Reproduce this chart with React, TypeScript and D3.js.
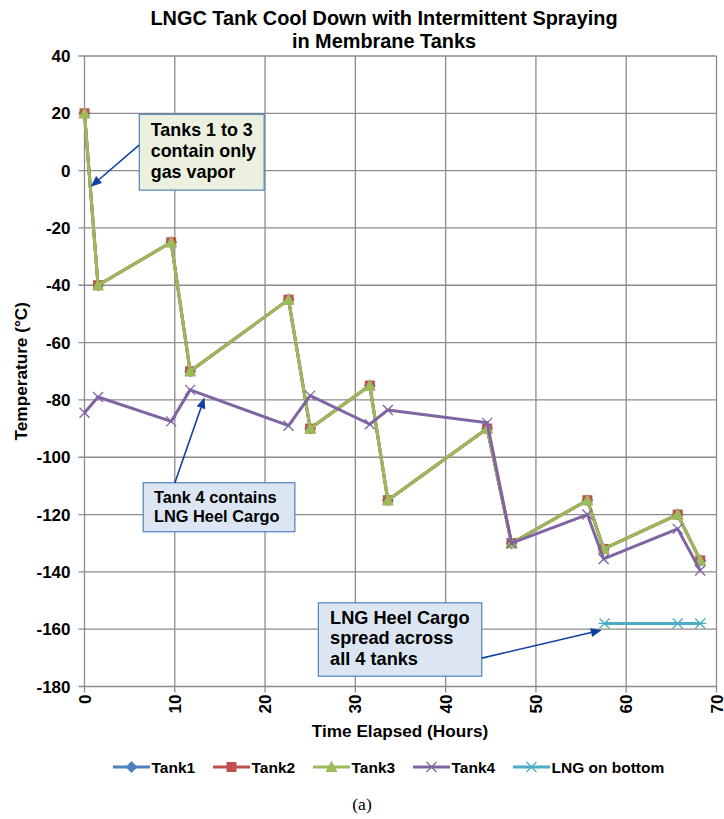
import React from "react";
import * as d3 from "d3";

const hours = [0, 1.5, 9.6, 11.7, 22.6, 25.0, 31.6, 33.6, 44.6, 47.3, 55.7, 57.5, 65.7, 68.2];
const tank1 = [20, -40, -25, -70, -45, -90, -75, -115, -90, -130, -115, -132, -120, -136];
const tank2 = [20, -40, -25, -70, -45, -90, -75, -115, -90, -130, -115, -132, -120, -136];
const tank3 = [20, -40, -25, -70, -45, -90, -75, -115, -90, -130, -115, -132, -120, -136];
const tank4 = [-84.5, -79, -87.5, -76.5, -89, -78.5, -88.5, -83.5, -88, -130, -120, -135.5, -125, -139.5];
const lngHours = [57.6, 65.7, 68.2];
const lngBottom = [-158, -158, -158];

const xTicks = [0, 10, 20, 30, 40, 50, 60, 70];
const yTicks = [40, 20, 0, -20, -40, -60, -80, -100, -120, -140, -160, -180];

const titleLines = ["LNGC Tank Cool Down with Intermittent Spraying", "in Membrane Tanks"];
const legendNames = ["Tank1", "Tank2", "Tank3", "Tank4", "LNG on bottom"];
const colors = ["#4F81BD", "#C0504D", "#9BBB59", "#8064A2", "#4BACC6"];

const W = 724, H = 819;
const x = d3.scaleLinear().domain([0, 70]).range([84.5, 716.5]);
const y = d3.scaleLinear().domain([-180, 40]).range([686.5, 56]);

const FONT = "'Liberation Sans', Arial, sans-serif";

function Marker({ kind, cx, cy, color }: { kind: string; cx: number; cy: number; color: string }) {
  const s = 5;
  if (kind === "diamond")
    return <path d={`M${cx},${cy - s - 1}L${cx + s + 1},${cy}L${cx},${cy + s + 1}L${cx - s - 1},${cy}Z`} fill={color} />;
  if (kind === "square")
    return <rect x={cx - s} y={cy - s} width={2 * s} height={2 * s} fill={color} />;
  if (kind === "triangle")
    return <path d={`M${cx},${cy - s - 1.5}L${cx + s + 1},${cy + s}L${cx - s - 1},${cy + s}Z`} fill={color} />;
  if (kind === "x")
    return (
      <path d={`M${cx - s},${cy - s}L${cx + s},${cy + s}M${cx - s},${cy + s}L${cx + s},${cy - s}`} stroke={color} strokeWidth={1.3} />
    );
  return (
    <path
      d={`M${cx - s},${cy - s}L${cx + s},${cy + s}M${cx - s},${cy + s}L${cx + s},${cy - s}M${cx - s - 1},${cy}L${cx + s + 1},${cy}`}
      stroke={color}
      strokeWidth={1.3}
    />
  );
}

const kinds = ["diamond", "square", "triangle", "x", "asterisk"];

function Series({ xs, ys, idx }: { xs: number[]; ys: number[]; idx: number }) {
  const line = d3
    .line<number>()
    .x((_, i) => x(xs[i]))
    .y((d) => y(d));
  return (
    <g>
      <path d={line(ys) || ""} fill="none" stroke={colors[idx]} strokeWidth={3} strokeLinejoin="round" />
      {ys.map((v, i) => (
        <Marker key={i} kind={kinds[idx]} cx={x(xs[i])} cy={y(v)} color={colors[idx]} />
      ))}
    </g>
  );
}

function Arrow({ x1, y1, x2, y2 }: { x1: number; y1: number; x2: number; y2: number }) {
  const ax1 = x(x1), ay1 = y(y1), ax2 = x(x2), ay2 = y(y2);
  const ang = Math.atan2(ay2 - ay1, ax2 - ax1);
  const L = 11, Wd = 4.5;
  const bx = ax2 - L * Math.cos(ang), by = ay2 - L * Math.sin(ang);
  const p1 = [bx + Wd * Math.sin(ang), by - Wd * Math.cos(ang)];
  const p2 = [bx - Wd * Math.sin(ang), by + Wd * Math.cos(ang)];
  return (
    <g>
      <line x1={ax1} y1={ay1} x2={bx} y2={by} stroke="#1240A0" strokeWidth={1.6} />
      <path d={`M${ax2},${ay2}L${p1[0]},${p1[1]}L${p2[0]},${p2[1]}Z`} fill="#1240A0" />
    </g>
  );
}

function Callout({
  x0, x1, y0, y1, lines, fill, size, lh, padX, base,
}: { x0: number; x1: number; y0: number; y1: number; lines: string[]; fill: string; size: number; lh: number; padX: number; base: number }) {
  const px = x(x0), py = y(y0);
  return (
    <g>
      <rect x={px} y={py} width={x(x1) - px} height={y(y1) - py} fill={fill} stroke="#4F81BD" strokeWidth={1.2} />
      {lines.map((t, i) => (
        <text key={i} x={px + padX} y={py + base + i * lh} fontSize={size} fontWeight="bold" fontFamily={FONT} fill="#000">
          {t}
        </text>
      ))}
    </g>
  );
}

export default function App() {
  const legendX = [113, 213, 313, 413, 513];
  return (
    <svg width={W} height={H} style={{ position: "absolute", left: 0, top: 0, background: "#fff" }}>
      <rect width={W} height={H} fill="#fff" />
      {titleLines.map((t, i) => (
        <text key={i} x={384} y={25 + i * 23} textAnchor="middle" fontSize={19.9} fontWeight="bold" fontFamily={FONT}>
          {t}
        </text>
      ))}
      {yTicks.map((v) => (
        <g key={"y" + v}>
          <line x1={x(0) - 6} x2={x(70)} y1={y(v)} y2={y(v)} stroke="#8c8c8c" strokeWidth={1.3} />
          <text x={x(0) - 14} y={y(v) + 6} textAnchor="end" fontSize={17} fontWeight="bold" fontFamily={FONT}>
            {v}
          </text>
        </g>
      ))}
      {xTicks.map((v) => (
        <g key={"x" + v}>
          <line x1={x(v)} x2={x(v)} y1={y(40)} y2={y(-180) + 6} stroke="#8c8c8c" strokeWidth={1.3} />
          <text
            transform={`translate(${x(v) + 6},${y(-180) + 8}) rotate(-90)`}
            textAnchor="end"
            fontSize={17}
            fontWeight="bold"
            fontFamily={FONT}
          >
            {v}
          </text>
        </g>
      ))}
      <text x={400} y={737} textAnchor="middle" fontSize={17.2} fontWeight="bold" fontFamily={FONT}>
        Time Elapsed (Hours)
      </text>
      <text transform={`translate(27,${(y(40) + y(-180)) / 2}) rotate(-90)`} textAnchor="middle" fontSize={17.2} fontWeight="bold" fontFamily={FONT}>
        Temperature (°C)
      </text>

      <Series xs={hours} ys={tank1} idx={0} />
      <Series xs={hours} ys={tank2} idx={1} />
      <Series xs={hours} ys={tank3} idx={2} />
      <Series xs={hours} ys={tank4} idx={3} />
      <Series xs={lngHours} ys={lngBottom} idx={4} />

      <Callout x0={6.07} x1={19.9} y0={19.65} y1={-6.8} lines={["Tanks 1 to 3", "contain only", "gas vapor"]} fill="#EBF1DE" size={17.9} lh={21} padX={11.4} base={21.4} />
      <Arrow x1={6.04} y1={8.9} x2={0.69} y2={-5.6} />
      <Callout x0={6.5} x1={23.3} y0={-108.9} y1={-126} lines={["Tank 4 contains", "LNG Heel Cargo"]} fill="#DCE6F2" size={16.4} lh={19} padX={10.7} base={20.6} />
      <Arrow x1={10.0} y1={-109} x2={13.3} y2={-79.1} />
      <Callout x0={25.9} x1={44.0} y0={-150.8} y1={-176.4} lines={["LNG Heel Cargo", "spread across", "all 4 tanks"]} fill="#DCE6F2" size={18.2} lh={20.5} padX={11.7} base={20.8} />
      <Arrow x1={44.0} y1={-170.1} x2={57.3} y2={-160.3} />

      {legendNames.map((n, i) => (
        <g key={n}>
          <line x1={legendX[i]} x2={legendX[i] + 37} y1={767} y2={767} stroke={colors[i]} strokeWidth={3} />
          <Marker kind={kinds[i]} cx={legendX[i] + 18.5} cy={767} color={colors[i]} />
          <text x={legendX[i] + 38.5} y={773} fontSize={15.5} fontWeight="bold" fontFamily={FONT}>
            {n}
          </text>
        </g>
      ))}
      <text x={362} y={810} textAnchor="middle" fontSize={17.5} fontFamily="'Liberation Serif', 'Times New Roman', serif">
        (a)
      </text>
    </svg>
  );
}
